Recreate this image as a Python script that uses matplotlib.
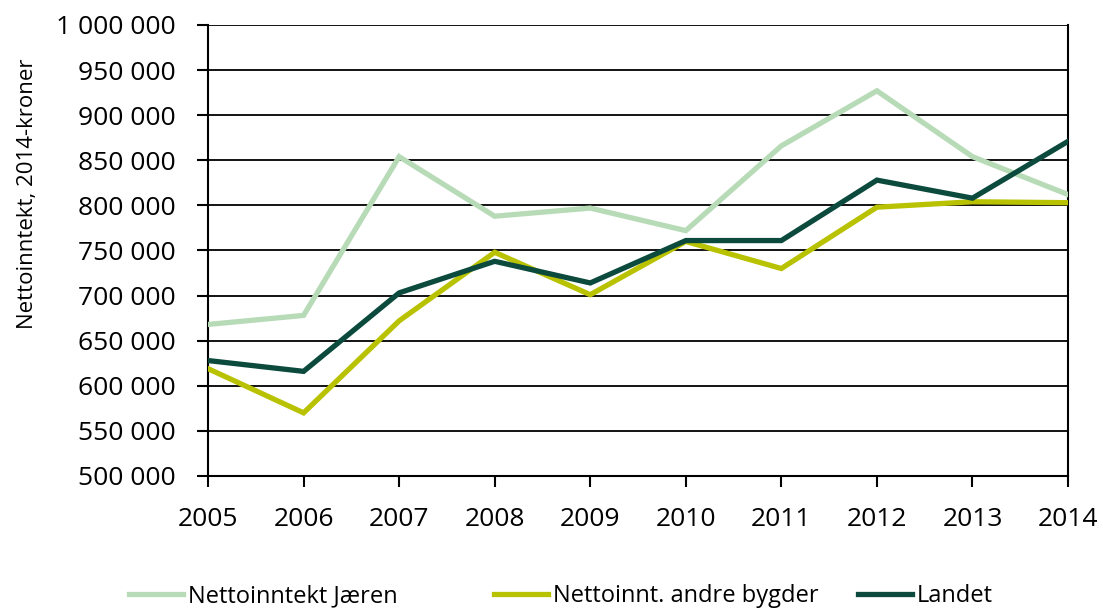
import matplotlib
matplotlib.use("Agg")
import matplotlib.pyplot as plt
import matplotlib.ticker as mticker
from matplotlib.lines import Line2D

# ---------------------------------------------------------------------------
# Data
# ---------------------------------------------------------------------------
years = [2005, 2006, 2007, 2008, 2009, 2010, 2011, 2012, 2013, 2014]
jaeren = [668000, 678000, 854000, 788000, 797000, 772000, 866000, 927000, 854000, 812000]
andre_bygder = [619000, 570000, 672000, 748000, 701000, 760000, 730000, 798000, 804000, 803000]
landet = [628000, 616000, 703000, 738000, 714000, 761000, 761000, 828000, 808000, 871000]

labels = ["Nettoinntekt Jæren", "Nettoinnt. andre bygder", "Landet"]
colors = ["#b7dbb7", "#b8c200", "#0b4a3c"]

FONT = "Open Sans"

fig = plt.figure(figsize=(11.03, 6.09), dpi=100)
ax = fig.add_axes([0.1886, 0.2184, 0.7797, 0.7406])

for series, lab, col in zip([jaeren, andre_bygder, landet], labels, colors):
    ax.plot(years, series, color=col, linewidth=3.8, label=lab,
            solid_joinstyle="miter", zorder=3)

ax.set_xlim(2005, 2014)
ax.set_ylim(500000, 1000000)
ax.set_xticks(years)
ax.yaxis.set_major_locator(mticker.MultipleLocator(50000))
ax.yaxis.set_major_formatter(
    mticker.FuncFormatter(lambda v, _: f"{int(v):,}".replace(",", " ")))

ax.grid(axis="y", color="black", linewidth=1.3)
ax.set_axisbelow(True)
for side in ["left", "bottom", "right"]:
    ax.spines[side].set_color("black")
    ax.spines[side].set_linewidth(1.5)
ax.spines["top"].set_visible(False)

ax.tick_params(axis="both", direction="out", length=8, width=1.5,
               labelsize=19)
ax.tick_params(axis="y", pad=15)
ax.tick_params(axis="x", pad=14)
for lbl in ax.get_xticklabels() + ax.get_yticklabels():
    lbl.set_fontfamily(FONT)

ax.set_ylabel("Nettoinntekt, 2014-kroner", fontsize=16, family=FONT)
ax.yaxis.set_label_coords(-0.198, 0.625)

# legend entries placed one by one (Excel-style uneven spacing)
legend_x = [0.108, 0.439, 0.769]
for lab, col, x in zip(labels, colors, legend_x):
    h = Line2D([], [], color=col, linewidth=3.8)
    fig.legend(handles=[h], labels=[lab], loc="lower left",
               bbox_to_anchor=(x, -0.014), frameon=False, handlelength=2.3,
               handletextpad=0.2, borderaxespad=0,
               prop={"family": FONT, "size": 17})

fig.savefig("out.png", dpi=100, facecolor="white")
